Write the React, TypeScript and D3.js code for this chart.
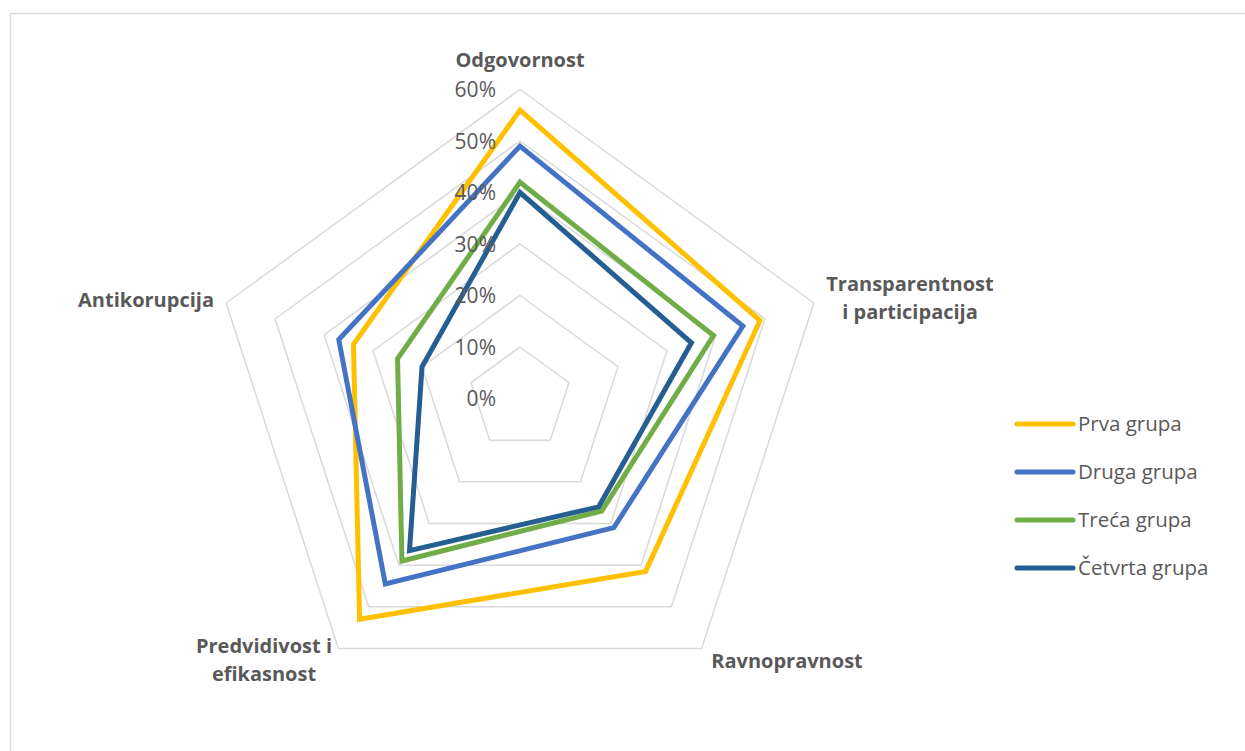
import React from "react";
import * as d3 from "d3";

const categories = ["Odgovornost", "Transparentnost i participacija", "Ravnopravnost", "Predvidivost i efikasnost", "Antikorupcija"];
const categoryLines = [["Odgovornost"], ["Transparentnost", "i participacija"], ["Ravnopravnost"], ["Predvidivost i", "efikasnost"], ["Antikorupcija"]];
const seriesNames = ["Prva grupa", "Druga grupa", "Treća grupa", "Četvrta grupa"];
const prva = [56, 49, 41.5, 53, 34];
const druga = [49, 45.5, 31, 44.5, 37];
const treca = [42, 39.5, 27, 39, 25];
const cetvrta = [40, 35, 26, 36.5, 20];
const tickValues = [0, 10, 20, 30, 40, 50, 60];
const colors = ["#FFC000", "#4472C4", "#70AD47", "#255E91"];

const W = 1245, H = 751;
const cx = 520, cy = 398.5, R = 309;

export default function App() {
  const series = [prva, druga, treca, cetvrta];
  const r = d3.scaleLinear().domain([0, 60]).range([0, R]);
  const angle = d3.scaleLinear().domain([0, categories.length]).range([0, 2 * Math.PI]);
  const line = d3.lineRadial<number>()
    .angle((_, i) => angle(i))
    .radius((d) => r(d))
    .curve(d3.curveLinearClosed);
  const gridLine = (v: number) => line(categories.map(() => v)) as string;

  const labelPos = [
    { x: 520, y: 60, anchor: "middle" },
    { x: 910, y: 284, anchor: "middle" },
    { x: 787, y: 661, anchor: "middle" },
    { x: 264, y: 646, anchor: "middle" },
    { x: 146, y: 300, anchor: "middle" },
  ];
  const legendX = 1017, legendY0 = 424, legendDy = 48;
  const font = "'Open Sans', 'Noto Sans', sans-serif";

  return (
    <div style={{ position: "absolute", left: 0, top: 0 }}>
      <svg width={W} height={H} style={{ display: "block" }}>
        <rect x={0} y={0} width={W} height={H} fill="#fff" />
        <rect x={10.5} y={13.5} width={W + 20} height={H + 20} fill="none" stroke="#d9d9d9" strokeWidth={1.5} />
        <g transform={`translate(${cx},${cy})`}>
          {tickValues.slice(1).map((v) => (
            <path key={v} d={gridLine(v)} fill="none" stroke="#d9d9d9" strokeWidth={1.5} />
          ))}
          {series.map((s, i) => (
            <path key={i} d={line(s) as string} fill="none" stroke={colors[i]} strokeWidth={5} strokeLinejoin="miter" />
          ))}
          {tickValues.map((v) => (
            <text key={v} x={-24} y={-r(v)} dy="0.36em" textAnchor="end" fontFamily={font} fontSize={21} fill="#595959">
              {v}%
            </text>
          ))}
        </g>
        {categoryLines.map((lines, i) => (
          <text key={i} textAnchor={labelPos[i].anchor as any} fontFamily={font} fontSize={20} fontWeight="bold" fill="#595959">
            {lines.map((t, j) => (
              <tspan key={j} x={labelPos[i].x} y={labelPos[i].y + j * 28} dy="0.36em">{t}</tspan>
            ))}
          </text>
        ))}
        {seriesNames.map((n, i) => (
          <g key={n} transform={`translate(${legendX},${legendY0 + i * legendDy})`}>
            <line x1={0} x2={56} y1={0} y2={0} stroke={colors[i]} strokeWidth={5} strokeLinecap="round" />
            <text x={61} y={0} dy="0.36em" fontFamily={font} fontSize={20.5} fill="#595959">{n}</text>
          </g>
        ))}
      </svg>
    </div>
  );
}
